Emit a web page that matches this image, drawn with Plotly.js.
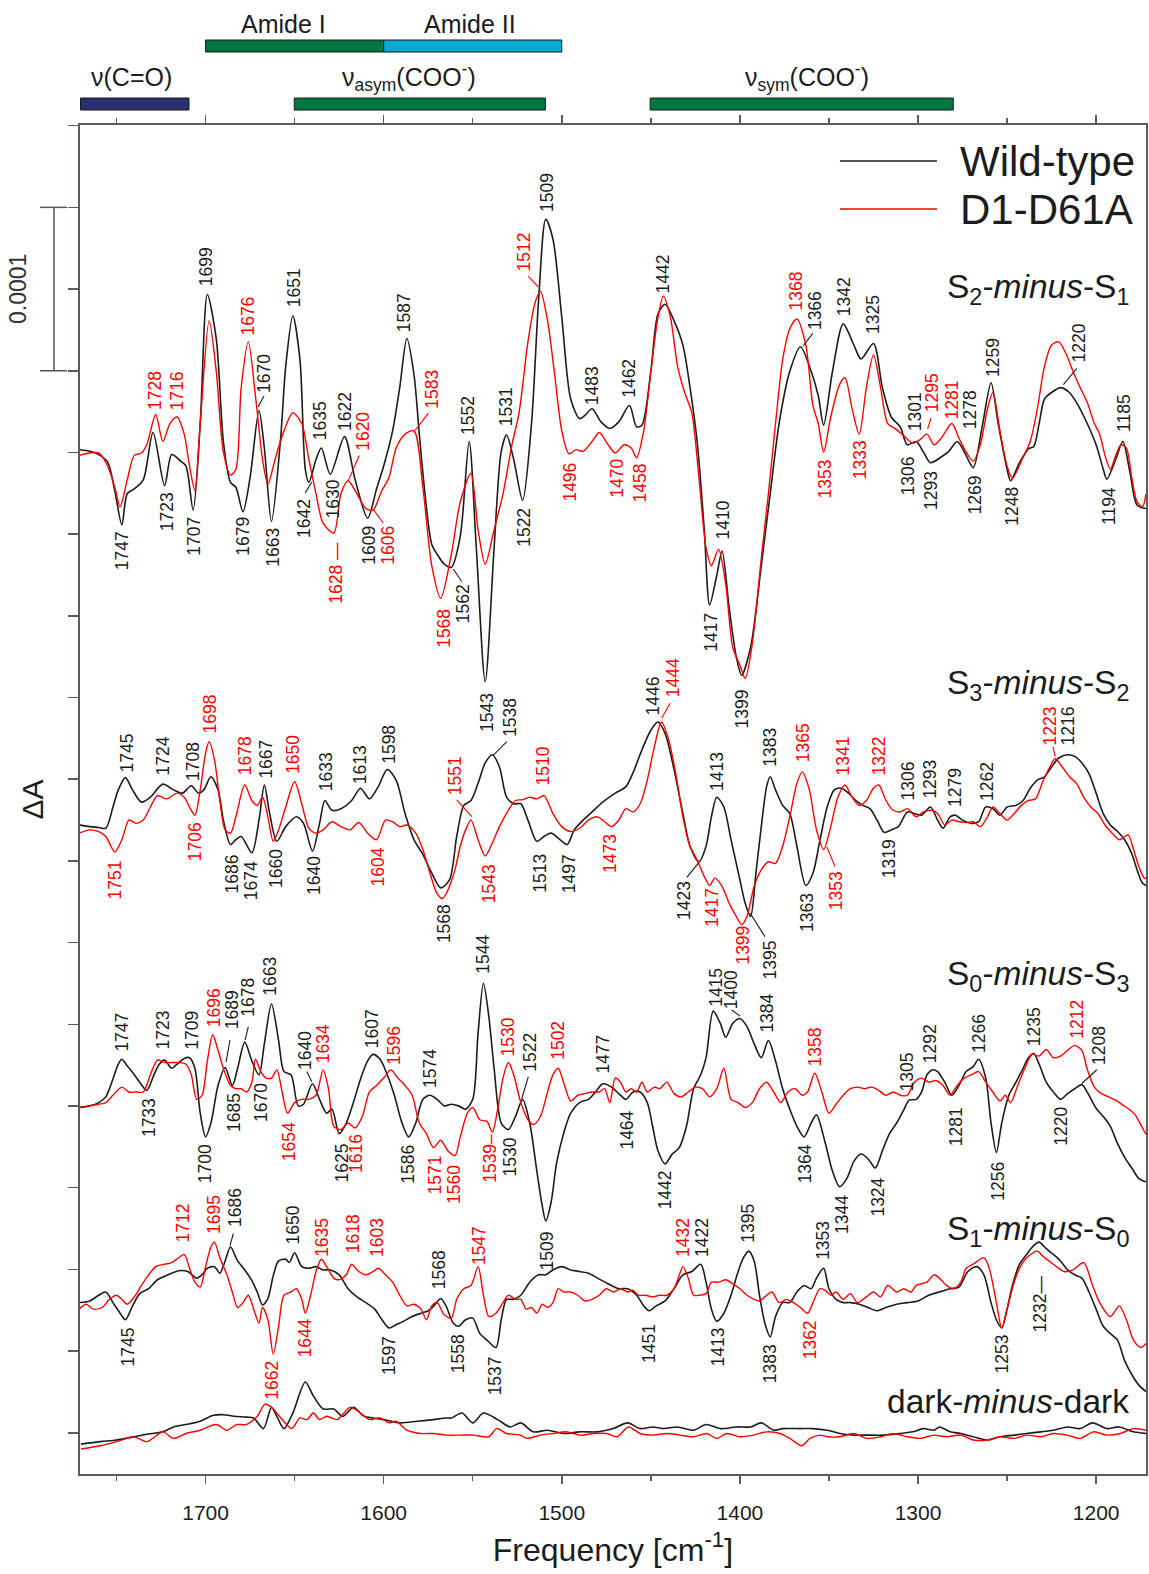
<!DOCTYPE html>
<html><head><meta charset="utf-8">
<script src="https://cdn.plot.ly/plotly-3.0.1.min.js"></script>
<style>html,body{margin:0;padding:0;background:#fff}#chart{width:1149px;height:1574px}</style>
</head><body><div id="chart"></div>
<script>
// ---- Data (x: wavenumber cm^-1, y: ΔA in units of 1e-5, relative to each spectrum's offset) ----
const spectrumNames = ['S<sub>2</sub>-<i>minus</i>-S<sub>1</sub>','S<sub>3</sub>-<i>minus</i>-S<sub>2</sub>','S<sub>0</sub>-<i>minus</i>-S<sub>3</sub>','S<sub>1</sub>-<i>minus</i>-S<sub>0</sub>','dark-<i>minus</i>-dark'];
const offsets = [62.49, 39.72, 22.58, 10.34, 2.08];
const nameY = [72.5, 48.3, 30.5, 14.9, 4.41];
const seriesNames = ['Wild-type','D1-D61A'];

const wt_S2S1 = [[1771,0.2],[1765,0.1],[1760,-0.1],[1755,-0.55],[1751,-2.3],[1747,-4.4],[1744,-2.5],[1740,-2.2],[1735,-1.65],[1729.5,1.25],[1723,-2.0],[1719,-0.1],[1714,-0.5],[1711,-0.8],[1707,-3.5],[1703,1.8],[1699,9.7],[1694,7.0],[1690,0.7],[1686,-1.8],[1683,-2.1],[1679,-3.6],[1675,-1.5],[1670,2.6],[1667,0.3],[1663,-4.2],[1658,0.7],[1655,5.3],[1651,8.4],[1647,5.7],[1644,-1.0],[1642,-1.8],[1638,-0.4],[1635,0.3],[1630,-1.3],[1622,1.0],[1616,-1.65],[1609,-4.0],[1604,-2.2],[1600,-0.8],[1595,1.35],[1591,4.0],[1587,7.0],[1583,4.8],[1580,1.15],[1577,-2.3],[1573,-5.6],[1570,-6.2],[1566,-6.8],[1562,-7.0],[1557,-5.1],[1552,0.7],[1548,-5.8],[1543,-14.0],[1538,-5.8],[1534,0.1],[1531,1.1],[1527,-0.4],[1522,-2.9],[1517,1.8],[1513,9.4],[1509,14.3],[1505,13.1],[1500,8.3],[1495,3.3],[1490,2.1],[1487,2.3],[1483,2.7],[1478,1.9],[1473,1.5],[1468,1.9],[1462,2.9],[1458,1.6],[1455,1.7],[1450,5.0],[1446,8.5],[1442,9.1],[1437,8.1],[1432,6.6],[1428,4.0],[1424,0.7],[1420,-4.7],[1417,-9.3],[1413,-7.5],[1410,-6.0],[1406,-9.5],[1402,-12.5],[1399,-13.6],[1394,-11.9],[1388,-6.9],[1383,-2.5],[1378,1.8],[1372,5.0],[1366,6.5],[1360,5.0],[1356,3.5],[1353,1.7],[1348,5.0],[1342,7.9],[1336,6.6],[1332,5.75],[1325,6.7],[1320,4.0],[1315,2.2],[1310,1.6],[1306,0.5],[1301,0.7],[1297,0.06],[1293,-0.6],[1287,-0.25],[1283,0.06],[1278,0.7],[1274,0.06],[1269,-0.9],[1264,1.6],[1259,4.3],[1255,1.8],[1250,-1.0],[1248,-1.7],[1243,-0.6],[1238,0.25],[1235,0.4],[1232,1.8],[1229,3.3],[1225,3.7],[1220,4.0],[1215,3.7],[1210,2.9],[1205,1.8],[1200,0.5],[1196,-1.0],[1194,-1.6],[1189,-0.4],[1185,0.7],[1181,-1.2],[1177,-3.2],[1172,-3.4]];
const mut_S2S1 = [[1771,-0.15],[1765,0],[1760,0],[1755,-0.8],[1751,-2.1],[1748,-3.3],[1744,-1.65],[1740,-0.15],[1736,0],[1733,0.5],[1728,2.35],[1724,0.7],[1720,1.8],[1716,2.2],[1712,1.15],[1709,-0.8],[1706,-2.3],[1703,1.8],[1698,8.1],[1694,5.0],[1690,0.06],[1686,-1.35],[1683,-1.0],[1680,4.0],[1676,6.8],[1672,3.5],[1668,-0.4],[1665,-1.9],[1661,-0.4],[1656,1.35],[1651,2.45],[1646,1.8],[1642,-0.4],[1638,-2.5],[1634,-4.3],[1628,-4.9],[1624,-2.5],[1620,-1.7],[1615,-2.5],[1610,-3.4],[1606,-3.5],[1601,-2.3],[1597,-1.5],[1593,0.3],[1588,1.15],[1583,1.35],[1578,-2.1],[1573,-6.9],[1568,-8.9],[1562,-6.2],[1557,-3.0],[1551,-1.25],[1547,-4.7],[1543,-6.8],[1538,-4.7],[1533,-2.5],[1528,0.5],[1524,2.45],[1519,6.8],[1515,9.2],[1512,9.9],[1508,8.1],[1504,4.8],[1500,1.35],[1496,-0.05],[1492,0.2],[1488,0.1],[1483,0.7],[1479,1.25],[1474,0.5],[1470,0],[1465,0.5],[1461,0.3],[1458,-0.3],[1454,1.35],[1450,5.0],[1446,8.3],[1443,9.6],[1439,8.3],[1435,5.3],[1431,3.7],[1427,2.45],[1423,-1.5],[1419,-5.8],[1416,-6.9],[1412,-5.9],[1408,-8.0],[1404,-11.9],[1400,-13.0],[1397,-13.8],[1393,-11.65],[1388,-6.45],[1384,-2.5],[1380,1.8],[1376,5.7],[1372,7.6],[1368,8.2],[1363,6.6],[1359,2.9],[1356,1.8],[1353,0.06],[1349,2.2],[1344,4.2],[1341,4.6],[1337,2.7],[1333,1.15],[1329,4.0],[1325,6.0],[1321,4.0],[1317,1.8],[1313,1.5],[1309,1.15],[1303,0.6],[1299,0.8],[1295,1.15],[1291,0.5],[1287,0.9],[1281,1.8],[1277,0.9],[1273,0.06],[1269,-0.5],[1265,0.5],[1261,2.7],[1258,3.7],[1254,1.35],[1250,-0.8],[1247,-1.55],[1242,-0.5],[1237,0.7],[1233,2.7],[1229,5.3],[1225,6.6],[1221,6.8],[1217,6.1],[1213,5.0],[1209,4.0],[1205,3.1],[1201,1.8],[1198,1.15],[1195,-0.15],[1192,-1.0],[1189,-0.15],[1186,0.5],[1183,0.3],[1180,-1.5],[1177,-3.0],[1174,-3.3],[1172,-2.5]];

const wt_S3S2 = [[1771,0],[1765,-0.1],[1760,-0.15],[1756,-0.2],[1752,1.1],[1749,2.15],[1745,2.9],[1741,2.15],[1736,1.4],[1731,1.7],[1724,2.5],[1718,2.15],[1713,1.95],[1708,2.4],[1704,1.95],[1701,2.15],[1697,2.95],[1693,2.15],[1690,0.3],[1686,-1.2],[1683,-0.9],[1680,-0.7],[1674,-1.7],[1670,0.3],[1667,2.45],[1664,0.7],[1660,-1.0],[1655,-0.1],[1649,0.5],[1645,0.1],[1640,-1.6],[1636,0.1],[1633,1.5],[1629,0.9],[1624,1.0],[1618,1.5],[1613,2.25],[1608,1.6],[1603,2.35],[1598,3.4],[1593,2.75],[1588,0.7],[1583,-0.9],[1578,-1.8],[1573,-2.95],[1568,-3.85],[1563,-3.35],[1559,-0.7],[1555,1.2],[1551,1.5],[1547,2.55],[1543,3.8],[1539,4.3],[1535,3.55],[1531,1.7],[1527,1.3],[1523,1.3],[1519,0.3],[1514,-1.0],[1510,-0.7],[1506,-0.5],[1501,-0.9],[1497,-1.2],[1493,-0.3],[1488,0.3],[1483,0.8],[1477,1.4],[1470,1.95],[1464,2.35],[1460,3.2],[1455,4.6],[1450,5.8],[1446,6.3],[1442,5.6],[1437,3.4],[1432,0.7],[1428,-1.3],[1423,-2.25],[1419,-1.3],[1416,0.5],[1413,1.7],[1409,1.1],[1405,-0.9],[1400,-3.35],[1397,-4.8],[1394,-5.6],[1391,-2.95],[1388,-0.1],[1385,2.35],[1383,2.95],[1380,2.15],[1376,1.2],[1372,0.7],[1368,-1.3],[1363,-3.7],[1359,-2.95],[1355,-0.9],[1351,1.1],[1347,2.15],[1343,2.25],[1339,1.95],[1335,1.5],[1331,1.2],[1327,1.0],[1323,0.3],[1319,-0.45],[1315,-0.3],[1311,-0.1],[1306,0.8],[1302,0.7],[1298,0.6],[1293,1.1],[1289,0.3],[1286,-0.2],[1282,0.5],[1279,0.6],[1275,0.3],[1270,0.1],[1266,0.2],[1262,1.1],[1258,1.0],[1254,0.6],[1250,1.1],[1245,1.2],[1241,1.5],[1237,2.25],[1233,2.75],[1229,2.95],[1225,3.55],[1221,4.1],[1216,4.3],[1212,4.2],[1208,3.8],[1204,3.15],[1200,1.95],[1196,0.7],[1192,0],[1188,-0.4],[1184,-0.9],[1180,-1.75],[1177,-2.75],[1174,-3.55],[1172,-3.7]];
const mut_S3S2 = [[1771,-0.5],[1765,-0.3],[1760,-0.4],[1756,-0.7],[1751,-1.65],[1747,-0.9],[1743,0.3],[1739,0.1],[1735,0.3],[1731,1.1],[1727,1.8],[1722,1.6],[1716,1.95],[1712,1.7],[1709,1.1],[1706,0.6],[1703,2.15],[1700,4.4],[1698,5.1],[1695,4.0],[1692,1.5],[1689,-0.3],[1686,-0.5],[1683,0.5],[1678,2.45],[1674,1.5],[1671,1.2],[1668,1.7],[1665,0.5],[1662,-1.0],[1659,-0.3],[1655,1.1],[1650,2.65],[1646,1.3],[1642,-0.2],[1638,-0.5],[1634,-0.3],[1629,0.2],[1624,-0.1],[1619,-0.3],[1614,0.15],[1609,-0.5],[1604,-0.9],[1599,0.3],[1595,0.2],[1591,-0.1],[1587,0],[1582,-0.5],[1578,-1.5],[1574,-2.95],[1570,-4.2],[1567,-4.5],[1564,-4.0],[1560,-2.75],[1557,-1.3],[1554,-0.3],[1551,0.3],[1547,-0.9],[1543,-1.9],[1539,-1.1],[1535,-0.1],[1530,0.9],[1526,1.5],[1522,1.55],[1518,1.7],[1514,1.6],[1510,1.8],[1505,0.7],[1500,-0.1],[1495,-0.4],[1490,-0.2],[1485,0.3],[1480,0.5],[1476,0.2],[1472,-0.1],[1468,0.3],[1464,1.0],[1460,0.8],[1456,1.3],[1452,2.75],[1448,4.8],[1444,6.3],[1440,5.2],[1436,3.15],[1432,0.5],[1428,-1.3],[1424,-2.15],[1420,-3.15],[1417,-3.7],[1414,-3.25],[1410,-3.75],[1406,-4.8],[1402,-5.6],[1399,-6.1],[1396,-5.6],[1392,-3.75],[1388,-2.75],[1384,-2.25],[1380,-2.35],[1376,-1.3],[1372,0.5],[1368,2.55],[1365,3.25],[1361,2.15],[1357,-0.3],[1353,-1.5],[1349,-0.1],[1345,1.7],[1341,2.45],[1337,1.7],[1333,1.2],[1329,1.5],[1325,2.25],[1322,2.45],[1318,1.5],[1314,0.9],[1310,0.8],[1306,1.0],[1301,0.5],[1297,0.8],[1293,0.9],[1289,0.7],[1285,0],[1281,0.3],[1277,0.2],[1273,0.15],[1269,0.2],[1265,-0.1],[1261,0.5],[1258,1.1],[1254,0.7],[1250,0.3],[1246,0.7],[1242,1.2],[1238,1.5],[1234,1.6],[1230,2.65],[1226,3.55],[1223,4.05],[1219,3.55],[1215,2.95],[1211,2.55],[1207,1.7],[1203,1.1],[1199,0.7],[1195,0],[1191,-0.5],[1187,-0.9],[1185,-0.8],[1182,-0.6],[1179,-1.5],[1176,-2.55],[1173,-3.25],[1172,-3.25]];

const wt_S0S3 = [[1771,-0.15],[1765,-0.05],[1760,0.15],[1756,0.5],[1752,1.6],[1749,2.5],[1747,2.8],[1744,2.4],[1740,1.85],[1737,1.4],[1733,0.9],[1729,1.85],[1726,2.5],[1723,2.75],[1719,2.25],[1716,2.5],[1712,2.85],[1709,2.9],[1706,2.25],[1703,-0.5],[1700,-1.95],[1697,-1.1],[1693,1.2],[1689,2.3],[1685,1.2],[1682,2.25],[1678,3.85],[1674,2.7],[1670,1.85],[1667,3.75],[1663,6.2],[1659,3.95],[1656,2.05],[1652,1.85],[1648,-0.05],[1645,0.05],[1640,1.3],[1636,0.35],[1632,-0.5],[1629,-0.25],[1625,-1.75],[1621,-1.1],[1617,0.15],[1613,1.6],[1609,2.7],[1606,3.1],[1602,2.8],[1598,1.85],[1594,0.6],[1590,-1.0],[1586,-1.95],[1582,-1.1],[1578,0.35],[1574,0.6],[1570,0.35],[1566,-0.05],[1562,0.05],[1558,-0.05],[1554,-0.25],[1550,0.35],[1547,4.4],[1544,7.45],[1541,5.45],[1538,2.25],[1534,-1.1],[1530,-1.5],[1526,-0.7],[1522,0.35],[1518,-1.1],[1514,-4.05],[1511,-6.15],[1509,-7.1],[1506,-5.95],[1503,-3.6],[1499,-1.75],[1495,-0.5],[1490,0.15],[1485,0.35],[1481,0.8],[1477,1.3],[1472,1.1],[1468,0.7],[1464,0.35],[1460,0.8],[1456,0.8],[1452,0.15],[1449,-1.3],[1446,-2.8],[1442,-3.6],[1438,-3.0],[1434,-2.6],[1430,-1.3],[1426,1.0],[1422,1.85],[1419,2.9],[1415,5.75],[1411,5.0],[1408,4.15],[1404,5.0],[1400,5.3],[1396,4.8],[1392,3.75],[1388,2.9],[1384,3.95],[1380,2.7],[1376,1.0],[1372,-0.25],[1368,-1.3],[1364,-1.95],[1360,-1.1],[1357,-0.6],[1352,-2.35],[1348,-4.05],[1344,-5.0],[1340,-4.5],[1336,-3.45],[1332,-3.0],[1328,-3.3],[1324,-3.85],[1320,-2.8],[1316,-1.75],[1312,-1.1],[1308,-0.3],[1305,0.3],[1301,0.35],[1298,0.8],[1295,1.85],[1292,2.15],[1289,2.05],[1285,1.4],[1281,0.6],[1277,1.2],[1273,2.05],[1269,2.35],[1266,2.8],[1262,1.65],[1259,-1.1],[1256,-2.9],[1253,-1.1],[1249,0.6],[1245,1.4],[1241,2.25],[1238,2.9],[1235,3.15],[1232,2.5],[1228,1.4],[1224,0.8],[1220,0.35],[1216,0.7],[1212,1.0],[1208,1.25],[1204,0.6],[1200,-0.2],[1196,-0.7],[1192,-1.3],[1188,-2.35],[1184,-3.2],[1180,-3.85],[1176,-4.5],[1172,-4.7]];
const mut_S0S3 = [[1771,-0.15],[1765,-0.05],[1760,0.05],[1756,0.15],[1752,0.6],[1747,1.1],[1743,0.8],[1739,0.8],[1735,0.8],[1731,1.85],[1727,2.75],[1723,2.6],[1719,2.6],[1715,2.6],[1711,2.5],[1708,1.85],[1705,0.35],[1702,0.6],[1699,2.7],[1696,4.3],[1693,3.35],[1690,2.25],[1686,1.2],[1683,1.0],[1680,1.0],[1677,0.8],[1674,1.4],[1672,2.8],[1669,2.05],[1666,1.65],[1663,1.65],[1660,2.15],[1657,0.8],[1654,-0.5],[1650,0.15],[1646,0.35],[1642,0.35],[1638,0.6],[1634,2.15],[1631,1.0],[1628,-1.3],[1624,-1.5],[1620,-1.1],[1616,-1.4],[1612,-0.7],[1608,0.8],[1604,1.2],[1600,1.65],[1596,2.15],[1592,1.65],[1588,1.2],[1584,0.6],[1580,-1.1],[1576,-1.75],[1572,-2.6],[1568,-2.15],[1564,-2.8],[1560,-3.1],[1557,-1.95],[1553,-0.5],[1550,-0.15],[1546,-0.9],[1542,-1.0],[1539,-1.65],[1536,-0.25],[1533,1.65],[1530,2.6],[1527,1.85],[1523,0.15],[1519,-0.9],[1516,-1.2],[1512,-0.7],[1508,0.8],[1505,1.85],[1502,2.25],[1499,1.4],[1495,0.25],[1491,0.6],[1487,0.7],[1483,0.8],[1479,0.8],[1476,1.0],[1473,0.15],[1470,1.65],[1467,1.4],[1464,0.8],[1461,1.0],[1458,0.8],[1455,1.4],[1452,0.8],[1448,1.1],[1445,1.0],[1441,1.4],[1437,0.7],[1433,0.5],[1429,0.8],[1425,1.1],[1421,1.0],[1417,0.5],[1413,1.0],[1409,2.25],[1405,0.35],[1401,0.15],[1397,-0.15],[1393,0.15],[1389,1.0],[1385,1.4],[1381,0.8],[1377,0.15],[1373,0.8],[1369,1.0],[1365,0.6],[1362,0.8],[1358,1.95],[1354,0.8],[1350,-0.5],[1346,0.05],[1342,0.6],[1338,1.0],[1334,1.1],[1330,1.0],[1326,1.1],[1322,0.9],[1318,0.6],[1314,0.8],[1310,0.6],[1306,0.6],[1302,1.4],[1298,1.65],[1294,1.4],[1290,1.5],[1286,1.2],[1282,0.6],[1278,1.2],[1274,1.65],[1270,1.85],[1266,2.05],[1262,1.4],[1258,0.8],[1254,0.25],[1251,0.6],[1248,0.15],[1244,1.2],[1240,2.25],[1236,3.1],[1232,3.0],[1228,3.4],[1224,2.9],[1220,3.0],[1216,3.35],[1212,3.65],[1208,3.35],[1205,2.2],[1201,1.1],[1197,0.7],[1193,0.5],[1189,0.3],[1185,0.0],[1181,-0.3],[1178,-0.6],[1175,-1.2],[1172,-1.8]];

const wt_S1S0 = [[1771,0.15],[1765,0.25],[1760,0.6],[1756,0.8],[1752,0.15],[1748,-0.5],[1745,-0.9],[1741,-0.05],[1737,0.7],[1732,1.0],[1727,1.55],[1721,1.85],[1715,2.1],[1710,2.05],[1705,1.65],[1702,1.85],[1699,2.25],[1695,2.35],[1692,1.95],[1689,2.7],[1686,3.55],[1682,2.7],[1678,2.15],[1674,1.5],[1671,0.8],[1668,0.0],[1665,0.4],[1662,1.8],[1659,2.7],[1655,2.8],[1653,2.6],[1650,3.2],[1646,2.35],[1642,2.25],[1638,2.35],[1634,2.15],[1630,2.15],[1625,1.85],[1620,1.0],[1615,0.5],[1610,0.15],[1605,-0.25],[1601,-0.9],[1597,-1.4],[1593,-1.2],[1589,-1.0],[1584,-0.7],[1579,-0.5],[1575,-0.35],[1571,0.05],[1568,0.4],[1565,-0.05],[1561,-1.1],[1558,-1.3],[1554,-0.9],[1550,-0.8],[1546,-1.75],[1542,-2.15],[1537,-2.6],[1534,-0.9],[1531,0.35],[1527,0.35],[1523,0.6],[1518,1.4],[1513,1.85],[1509,1.85],[1505,2.15],[1500,2.35],[1495,2.15],[1490,2.05],[1485,1.95],[1480,1.65],[1474,1.3],[1468,1.0],[1463,1.0],[1458,0.6],[1454,-0.05],[1451,-0.35],[1447,-0.05],[1442,0.25],[1437,1.0],[1432,1.85],[1427,2.05],[1422,2.5],[1419,1.4],[1416,-0.25],[1413,-1.0],[1409,-0.5],[1405,0.6],[1401,2.05],[1398,2.9],[1395,3.3],[1392,2.7],[1389,0.6],[1386,-1.1],[1383,-1.95],[1380,-0.7],[1376,0.15],[1372,0.15],[1368,0.8],[1364,1.2],[1360,1.0],[1357,1.65],[1353,2.25],[1350,1.0],[1346,0.35],[1342,0.15],[1338,0.15],[1333,0.05],[1328,-0.15],[1323,-0.35],[1318,-0.15],[1312,0.05],[1306,0.15],[1300,0.25],[1294,0.6],[1288,0.8],[1282,1.0],[1277,1.1],[1272,2.05],[1267,2.35],[1263,1.85],[1259,0.15],[1256,-0.9],[1253,-1.4],[1250,-0.25],[1247,1.2],[1243,2.5],[1239,3.1],[1235,3.65],[1232,3.85],[1228,3.45],[1224,3.1],[1220,2.7],[1216,2.15],[1212,1.85],[1208,1.65],[1204,0.8],[1200,-0.25],[1196,-1.3],[1192,-1.75],[1188,-2.15],[1184,-3.4],[1180,-4.25],[1176,-4.9],[1172,-5.3]];
const mut_S1S0 = [[1771,-0.25],[1767,0.05],[1763,-0.25],[1758,-0.15],[1754,0.35],[1750,0.6],[1747,0.35],[1744,0.05],[1740,0.5],[1736,1.2],[1732,1.85],[1728,2.35],[1723,2.5],[1719,2.6],[1715,2.9],[1712,3.1],[1709,2.25],[1706,1.4],[1703,1.1],[1700,2.35],[1697,3.55],[1695,3.85],[1692,2.9],[1688,1.85],[1685,0.8],[1682,-0.15],[1679,0.15],[1676,0.6],[1673,-0.25],[1670,-1.1],[1668,-0.15],[1665,-0.9],[1662,-3.0],[1659,-1.3],[1656,0.6],[1652,0.8],[1649,1.0],[1646,0.35],[1644,-0.5],[1641,0.6],[1638,2.05],[1635,2.8],[1632,2.35],[1628,1.65],[1625,1.55],[1621,1.85],[1618,2.5],[1614,2.05],[1610,1.85],[1606,2.05],[1603,2.25],[1599,1.85],[1595,1.4],[1591,0.6],[1587,-0.05],[1583,0.05],[1579,-0.25],[1576,-0.9],[1573,-0.05],[1570,0.15],[1566,-0.6],[1562,-0.8],[1559,0.35],[1555,1.0],[1551,1.2],[1547,2.35],[1544,0.6],[1541,-0.7],[1537,-0.5],[1533,0.15],[1530,0.6],[1526,0.35],[1523,0.35],[1520,-0.25],[1517,-0.15],[1514,-0.5],[1511,0.05],[1508,-0.15],[1505,0.15],[1502,1.0],[1499,0.8],[1495,0.8],[1491,0.6],[1487,0.25],[1483,0.35],[1479,0.6],[1475,1.0],[1471,0.8],[1467,1.0],[1463,0.8],[1460,0.9],[1457,0.6],[1453,0.6],[1449,0.5],[1445,0.6],[1441,0.6],[1437,1.0],[1434,1.85],[1432,2.35],[1429,1.65],[1426,0.6],[1423,0.6],[1419,0.7],[1416,1.4],[1412,1.4],[1408,1.55],[1404,1.3],[1400,1.0],[1396,0.6],[1392,0.35],[1389,0.25],[1386,0.5],[1382,0.8],[1378,0.15],[1374,0.35],[1370,0.15],[1366,-0.15],[1362,-0.5],[1359,0.15],[1355,1.0],[1352,0.9],[1349,0.6],[1346,0.8],[1342,0.35],[1338,0.7],[1334,0.15],[1329,0.5],[1325,0.8],[1321,0.5],[1317,1.2],[1312,0.8],[1308,1.0],[1304,0.8],[1301,1.2],[1295,1.4],[1291,1.85],[1288,1.65],[1284,1.2],[1280,1.0],[1276,1.4],[1273,2.25],[1269,2.5],[1263,2.9],[1260,2.25],[1256,0.15],[1253,-1.4],[1250,-0.25],[1246,1.4],[1243,2.25],[1239,2.9],[1233,3.3],[1230,3.0],[1224,2.5],[1218,2.05],[1213,2.15],[1207,2.6],[1202,1.2],[1198,0.15],[1192,-0.7],[1187,-0.05],[1183,-0.9],[1179,-2.15],[1175,-2.6],[1172,-2.35]];

const wt_dark = [[1770,-0.25],[1759,-0.1],[1750,0.0],[1740,0.2],[1733,0.35],[1724,0.5],[1718,0.8],[1711,0.95],[1703,1.15],[1696,1.5],[1690,1.55],[1684,1.45],[1677,1.4],[1673,1.35],[1667.5,0.7],[1663,2.0],[1660,1.45],[1656,0.7],[1651,1.65],[1644,3.55],[1639.5,2.7],[1634,1.9],[1628,1.9],[1623,1.45],[1617,2.0],[1611,1.45],[1606,1.35],[1600,1.25],[1591,1.05],[1581,1.15],[1572,1.25],[1565,1.35],[1562,1.35],[1556,1.65],[1550,1.05],[1544,1.65],[1536,1.25],[1529,0.8],[1523,1.05],[1516,0.5],[1508,0.6],[1499,0.4],[1490,0.5],[1480,0.5],[1471,0.7],[1463,1.05],[1456,0.7],[1449,0.8],[1443,0.7],[1435,0.8],[1426,0.6],[1419,0.95],[1411,0.7],[1402,0.8],[1394,0.8],[1388,1.05],[1381,0.6],[1376,0.7],[1366,0.7],[1359,0.7],[1351,0.6],[1344,0.4],[1336,0.3],[1329,0.3],[1319,0.3],[1310,0.4],[1303,0.5],[1297,0.7],[1291,0.6],[1288,0.8],[1282,0.5],[1276,0.4],[1269,0.2],[1261,0.0],[1254,0.2],[1246,0.3],[1239,0.4],[1231,0.5],[1224,0.6],[1216,0.8],[1209,0.7],[1202,1.05],[1194,0.7],[1187,0.8],[1179,0.5],[1172,0.4]];
const mut_dark = [[1770,-0.55],[1759,-0.35],[1750,-0.1],[1740.5,0.2],[1733,-0.1],[1724,0.5],[1718,0.1],[1711,0.4],[1703,0.6],[1694,0.95],[1688,0.6],[1682.5,0.95],[1677,0.95],[1671,1.45],[1666.6,2.2],[1662,1.9],[1657,1.25],[1651.6,0.7],[1647,1.35],[1643,1.25],[1639.5,1.65],[1636,1.25],[1632,1.45],[1626,1.25],[1619,2.0],[1613,1.65],[1608,1.25],[1602,1.35],[1597,1.05],[1593,1.15],[1587,0.6],[1579.5,0.4],[1572,0.4],[1565,0.3],[1557,0.3],[1549.6,0.3],[1541,0.2],[1536.5,0.7],[1531,0.4],[1523.4,0.3],[1519.6,0.1],[1512,0.3],[1504.7,0.4],[1497,0.5],[1489.7,0.3],[1482,0.4],[1474.7,0.4],[1469,0.2],[1462.6,0.8],[1456,0.4],[1448.6,0.3],[1441,0.4],[1433.6,0.3],[1426,0.2],[1418.6,0.4],[1413,0.1],[1407.4,0.4],[1400,0.2],[1392.4,0.3],[1385,0.5],[1377.5,0.4],[1372,0.1],[1365.3,-0.35],[1360.6,0.1],[1355,0.3],[1351,0.2],[1344,0.2],[1336,0.4],[1329,0.1],[1321,0.2],[1314,0.4],[1306,0.2],[1299,0.1],[1291,0.3],[1284,0.2],[1276,0.3],[1269,0.0],[1261,0.0],[1254,0.2],[1246,0.1],[1239,0.3],[1231,0.2],[1224,0.4],[1216.5,0.3],[1209,0.1],[1201.5,0.5],[1194,0.3],[1186.5,0.4],[1179,0.7],[1172,0.6]];

// Peak labels: [text, x (cm-1), y (absolute axis units), side]
const labels_wt = [
 ['1747',1747.1,57.77,'dn'],['1723',1721.8,60.16,'dn'],['1707',1706.9,58.63,'dn'],['1699',1699.3,72.65,'up'],['1679',1679.4,58.63,'dn'],['1670',1667.2,66.13,'up'],['1663',1662.3,57.99,'dn'],['1651',1650.7,71.34,'up'],['1642',1645.1,59.73,'dn'],['1635',1636.1,63.20,'up'],['1630',1628.3,60.91,'dn'],['1622',1621.7,63.74,'up'],['1609',1608.0,58.09,'dn'],['1587',1588.9,69.81,'up'],['1562',1555.3,54.51,'dn'],['1552',1552.4,63.53,'up'],['1543',1542.1,47.88,'dn'],['1531',1530.9,64.08,'up'],['1522',1521.6,59.18,'dn'],['1509',1508.4,77.19,'up'],['1483',1483.2,65.36,'up'],['1462',1462.0,65.80,'up'],['1442',1443.3,72.20,'up'],['1417',1416.4,52.78,'dn'],['1410',1409.3,57.12,'up'],['1399',1398.9,48.10,'dn'],['1366',1357.8,69.92,'up'],['1342',1341.9,70.79,'up'],['1325',1325.0,69.71,'up'],['1306',1305.4,62.33,'dn'],['1301',1301.6,63.74,'up'],['1293',1292.3,61.46,'dn'],['1278',1270.8,63.85,'up'],['1269',1268.0,61.14,'dn'],['1259',1258.0,67.10,'up'],['1248',1247.4,60.49,'dn'],['1220',1209.9,67.97,'up'],['1194',1193.1,60.49,'dn'],['1185',1184.7,63.74,'up'],
 ['1745',1744.3,42.88,'up'],['1724',1723.7,42.68,'up'],['1708',1707.2,42.37,'up'],['1686',1685.3,37.99,'dn'],['1674',1674.1,37.58,'dn'],['1667',1666.6,42.47,'up'],['1660',1660.4,38.29,'dn'],['1640',1639.5,37.88,'dn'],['1633',1632.4,41.76,'up'],['1613',1612.9,42.17,'up'],['1598',1597.4,43.39,'up'],['1568',1566.5,34.93,'dn'],['1538',1529.0,45.03,'up'],['1513',1512.2,37.99,'dn'],['1497',1496.3,37.99,'dn'],['1446',1448.6,46.35,'up'],['1423',1431.7,36.35,'dn'],['1413',1413.0,41.76,'up'],['1395',1383.1,32.68,'dn'],['1383',1383.1,43.19,'up'],['1363',1362.4,35.64,'dn'],['1319',1316.6,38.91,'dn'],['1306',1305.4,41.15,'up'],['1293',1293.2,41.25,'up'],['1279',1279.2,40.74,'up'],['1262',1261.4,41.15,'up'],['1216',1215.6,44.51,'up'],
 ['1747',1747.1,25.80,'up'],['1733',1732.1,23.06,'dn'],['1723',1723.7,25.91,'up'],['1709',1707.8,25.91,'up'],['1700',1700.3,20.21,'dn'],['1689',1685.3,27.17,'up'],['1685',1684.4,23.37,'dn'],['1678',1676.0,27.91,'up'],['1670',1669.0,24.01,'dn'],['1663',1663.8,29.18,'up'],['1640',1644.1,24.64,'up'],['1625',1623.5,20.31,'dn'],['1607',1606.7,26.01,'up'],['1586',1586.1,20.21,'dn'],['1574',1574.0,23.59,'up'],['1544',1544.0,30.55,'up'],['1530',1529.0,20.63,'dn'],['1522',1517.8,24.53,'up'],['1509',1508.4,14.93,'dn'],['1477',1476.7,24.43,'up'],['1464',1463.5,22.32,'dn'],['1442',1442.0,18.62,'dn'],['1415',1413.6,28.54,'up'],['1400',1404.6,28.40,'up'],['1384',1384.9,26.97,'up'],['1364',1363.4,20.21,'dn'],['1344',1342.8,17.15,'dn'],['1324',1322.2,18.20,'dn'],['1305',1306.3,23.37,'up'],['1292',1293.2,25.06,'up'],['1281',1278.2,22.53,'dn'],['1266',1266.1,25.70,'up'],['1256',1254.9,19.16,'dn'],['1235',1235.2,26.12,'up'],['1220',1219.5,22.53,'dn'],['1208',1198.8,24.96,'up'],
 ['1745',1743.4,9.02,'dn'],['1686',1683.4,15.04,'up'],['1650',1650.7,13.98,'up'],['1597',1597.4,8.49,'dn'],['1568',1569.3,11.24,'up'],['1558',1558.1,8.61,'dn'],['1537',1537.5,7.23,'dn'],['1451',1451.4,9.24,'dn'],['1422',1421.4,13.24,'up'],['1413',1412.1,9.02,'dn'],['1395',1395.2,14.09,'up'],['1383',1383.1,7.97,'dn'],['1353',1353.1,13.04,'up'],['1253',1253.0,8.61,'dn'],['1232\u2014',1231.5,12.18,'dn']
];
const labels_mut = [
 ['1728',1728.8,65.04,'up'],['1716',1716.2,65.04,'up'],['1676',1676.0,69.60,'up'],['1628 \u2014',1626.7,57.12,'dn'],['1620',1611.4,62.55,'up'],['1606',1597.4,58.09,'dn'],['1583',1573.0,65.15,'up'],['1568',1566.5,53.00,'dn'],['1512',1521.2,73.50,'up'],['1496',1495.4,61.99,'dn'],['1470',1469.1,62.22,'dn'],['1458',1456.0,61.89,'dn'],['1368',1368.5,71.12,'up'],['1353',1352.2,62.12,'dn'],['1333',1332.5,63.31,'dn'],['1295',1292.3,64.93,'up'],['1281',1281.0,64.50,'up'],
 ['1751',1750.8,37.58,'dn'],['1706',1705.9,39.92,'dn'],['1698',1697.5,45.23,'up'],['1678',1677.8,42.68,'up'],['1650',1650.7,42.78,'up'],['1604',1603.0,38.39,'dn'],['1551',1559.9,41.45,'up'],['1543',1541.2,37.38,'dn'],['1510',1510.4,42.06,'up'],['1473',1472.9,39.21,'dn'],['1444',1437.4,47.47,'up'],['1417',1415.8,35.94,'dn'],['1399',1398.2,33.60,'dn'],['1365',1364.4,43.49,'up'],['1353',1345.6,36.97,'dn'],['1341',1341.9,42.68,'up'],['1322',1321.7,42.68,'up'],['1223',1225.8,44.51,'up'],
 ['1696',1695.6,27.28,'up'],['1654',1653.5,21.58,'dn'],['1634',1633.9,25.06,'up'],['1616',1615.5,20.85,'dn'],['1596',1594.6,24.96,'up'],['1571',1571.2,19.58,'dn'],['1560',1560.5,18.94,'dn'],['1539\u2013',1540.3,20.85,'dn'],['1530',1530.0,25.48,'up'],['1502',1501.9,25.28,'up'],['1358',1357.8,24.85,'up'],['1212',1210.9,26.59,'up'],
 ['1712',1712.5,14.09,'up'],['1695',1695.6,14.62,'up'],['1644',1644.1,9.55,'dn'],['1635',1634.8,13.24,'up'],['1618',1617.4,13.46,'up'],['1603',1603.9,13.24,'up'],['1547',1546.8,12.72,'up'],['1432',1432.1,13.24,'up'],['1362',1360.6,9.44,'dn'],
 ['1662',1662.9,4.49,'up']
];
// leader lines [x0,y0,x1,y1]
const leaders_wt = [[1670.5,65.30,1667.2,65.97],[1644.1,60.04,1640.4,60.71],[1560.9,55.39,1556.2,54.62],[1364.4,69.05,1359.1,69.81],[1218.4,66.67,1210.9,67.65],[1538.4,44.00,1530.9,44.82],[1423.3,37.38,1429.8,36.52],[1394.3,34.33,1385.9,32.88],[1688.5,25.21,1686.3,26.56],[1677.8,26.56,1676.0,27.38],[1640.4,24.01,1643.2,24.64],[1522.5,22.95,1518.8,24.32],[1399.9,28.02,1404.6,28.40],[1208.0,23.90,1199.6,24.74],[1686.3,13.98,1684.4,14.72]];
const leaders_mut = [[1619.8,60.81,1613.7,62.33],[1606.1,59.07,1600.2,58.20],[1583.3,63.74,1574.9,64.93],[1513.2,72.65,1518.8,73.29],[1294.6,63.96,1292.7,64.63],[1559.0,41.25,1550.5,40.23],[1443.9,46.25,1439.2,47.17],[1351.2,38.39,1346.6,37.17],[1223.0,43.90,1224.3,44.51]];

// Spectral regions above the plot
const regionNames = ['\u03bd(C=O)','Amide I','Amide II','\u03bd<sub>asym</sub>(COO<sup>-</sup>)','\u03bd<sub>sym</sub>(COO<sup>-</sup>)'];
const regionStart = [1770.2,1700,1600,1650.2,1450.4];
const regionEnd   = [1709.3,1600,1500,1509.2,1280.2];
const regionRow   = [2,1,1,2,2];
const regionLabelX = [1741.8,1656.1,1551.5,1585.8,1362.3];

// ---- Styles ----
const BLACK = '#1c1c1c', RED = '#ff0000';
const regionColors = ['#2c2f72','#00773f','#00a9cf','#00773f','#00773f'];
const wtSets = [wt_S2S1, wt_S3S2, wt_S0S3, wt_S1S0, wt_dark];
const mutSets = [mut_S2S1, mut_S3S2, mut_S0S3, mut_S1S0, mut_dark];

const traces = [];
[wtSets, mutSets].forEach((sets, k) => {
  sets.forEach((pts, i) => {
    traces.push({
      type: 'scatter', mode: 'lines', name: seriesNames[k], showlegend: false,
      x: pts.map(p => p[0]), y: pts.map(p => p[1] + offsets[i]),
      line: {color: k === 0 ? BLACK : RED, width: k === 0 ? 1.6 : 1.4, shape: 'spline', smoothing: 0.8},
      hoverinfo: 'skip'
    });
  });
});

const annotations = [];
const shapes = [];
function addLabels(list, color) {
  list.forEach(([t, x, y, side]) => annotations.push({
    x, y, xref: 'x', yref: 'y', text: t, showarrow: false, textangle: -90,
    xanchor: 'center', yanchor: side === 'up' ? 'bottom' : 'top', borderpad: 0,
    font: {size: 17.5, color}
  }));
}
addLabels(labels_wt, BLACK);
addLabels(labels_mut, RED);
function addLeaders(list, color) {
  list.forEach(([x0, y0, x1, y1]) => shapes.push({type: 'line', xref: 'x', yref: 'y', x0, y0, x1, y1, line: {color, width: 1.1}}));
}
addLeaders(leaders_wt, BLACK);
addLeaders(leaders_mut, RED);

// spectrum names
spectrumNames.forEach((t, i) => annotations.push({
  x: 0.986, y: nameY[i], xref: 'paper', yref: 'y', text: t, showarrow: false,
  xanchor: 'right', yanchor: 'middle', font: {size: 33.5, color: BLACK}
}));

// regions
const rowY = {1: [1.0541, 1.0630], 2: [1.0111, 1.0200]};
const rowLabelY = {1: 1.0749, 2: 1.0356};
regionNames.forEach((t, i) => {
  const r = regionRow[i];
  shapes.push({type: 'rect', xref: 'x', yref: 'paper', x0: regionStart[i], x1: regionEnd[i], y0: rowY[r][0], y1: rowY[r][1],
    fillcolor: regionColors[i], line: {color: '#1a1a1a', width: 1}});
  annotations.push({x: regionLabelX[i], y: rowLabelY[r], xref: 'x', yref: 'paper', text: t, showarrow: false,
    xanchor: 'center', yanchor: 'middle', font: {size: 25, color: BLACK}});
});

// legend (drawn manually)
[[0.9733, BLACK, seriesNames[0]], [0.9377, RED, seriesNames[1]]].forEach(([yy, c, t]) => {
  shapes.push({type: 'line', xref: 'paper', yref: 'paper', x0: 0.7129, x1: 0.8039, y0: yy, y1: yy, line: {color: c, width: 1.6}});
  annotations.push({x: 0.8236, y: yy, xref: 'paper', yref: 'paper', text: t, showarrow: false, xanchor: 'left', yanchor: 'middle', font: {size: 42, color: BLACK}});
});

// scale bar 0.0001 (= 10 units of 1e-5)
const SB = [67.52, 77.52];
shapes.push({type: 'line', xref: 'paper', yref: 'y', x0: -0.0244, x1: -0.0244, y0: SB[0], y1: SB[1], line: {color: '#555', width: 1.5}});
shapes.push({type: 'line', xref: 'paper', yref: 'y', x0: -0.0375, x1: -0.0122, y0: SB[0], y1: SB[0], line: {color: '#555', width: 1.5}});
shapes.push({type: 'line', xref: 'paper', yref: 'y', x0: -0.0375, x1: -0.0122, y0: SB[1], y1: SB[1], line: {color: '#555', width: 1.5}});
annotations.push({x: -0.0582, y: (SB[0] + SB[1]) / 2, xref: 'paper', yref: 'y', text: '0.0001', showarrow: false, textangle: -90,
  xanchor: 'center', yanchor: 'middle', font: {size: 23, color: '#333'}});

const AX = '#615b56';
const layout = {
  width: 1149, height: 1574,
  margin: {l: 80, r: 3, t: 125, b: 100},
  paper_bgcolor: '#fff', plot_bgcolor: '#fff',
  font: {family: 'Liberation Sans, Arial, sans-serif', color: BLACK},
  showlegend: false,
  xaxis: {
    range: [1770.5, 1172], autorange: false, showgrid: false, zeroline: false,
    showline: true, linecolor: AX, linewidth: 2, mirror: 'ticks',
    ticks: 'outside', ticklen: 8, tickwidth: 1.5, tickcolor: AX,
    tick0: 1200, dtick: 100, tickfont: {size: 21, color: BLACK}, ticklabelstandoff: 11,
    minor: {ticks: 'outside', ticklen: 5, tickwidth: 1.5, tickcolor: AX, dtick: 50, tick0: 1250, showgrid: false},
    title: {text: 'Frequency [cm<sup>-1</sup>]', font: {size: 32, color: BLACK}, standoff: 15}
  },
  yaxis: {
    range: [0, 82.56], autorange: false, showgrid: false, zeroline: false,
    showline: true, linecolor: AX, linewidth: 2, mirror: true,
    ticks: 'outside', ticklen: 10, tickwidth: 1.5, tickcolor: AX,
    tick0: 2.52, dtick: 5, showticklabels: false,
    title: {text: '\u0394A', font: {size: 30, color: BLACK}, standoff: 16}
  },
  annotations, shapes
};
Plotly.newPlot('chart', traces, layout, {displayModeBar: false, staticPlot: true});
</script></body></html>
